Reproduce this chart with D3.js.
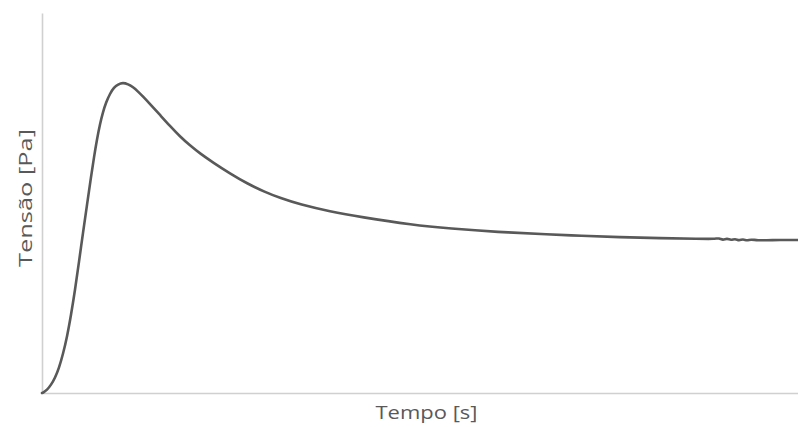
<!DOCTYPE html>
<html>
<head>
<meta charset="utf-8">
<script src="https://cdn.jsdelivr.net/npm/d3@7"></script>
<style>
  html, body { margin: 0; padding: 0; background: #ffffff; }
  svg { display: block; }
</style>
</head>
<body>
<svg id="chart" width="798" height="427"></svg>
<script>
// Stress response over time (relative units, no tick marks shown)
const tempo = [0, 0.13, 0.66, 1.19, 1.72, 2.25, 2.78, 3.31, 3.84, 4.37, 4.89, 5.42, 5.95,
  6.48, 6.88, 7.28, 7.67, 8.07, 8.47, 9.00, 9.52, 10.05, 10.71, 11.38, 12.04, 12.70,
  13.36, 14.29, 15.61, 16.93, 18.25, 19.58, 20.90, 22.62, 24.87, 27.12, 29.50, 31.48,
  34.13, 38.10, 42.06, 49.07, 53.97, 60.19, 67.20, 71.16, 76.46, 81.75, 87.04, 89.02,
  89.55, 90.08, 90.61, 91.14, 91.67, 92.20, 92.72, 93.25, 93.78, 94.58, 96.30, 100];
const tensao = [0, 0.08, 0.79, 2.11, 3.95, 6.58, 10.26, 14.74, 20.53, 27.11, 34.47, 42.11, 49.47,
  56.84, 62.11, 66.84, 70.79, 73.95, 76.45, 78.82, 80.39, 81.24, 81.68, 81.26, 80.53, 79.34,
  78.03, 76.05, 73.16, 70.26, 67.50, 65.13, 63.03, 60.66, 57.76, 55.13, 52.89, 51.32,
  49.61, 47.76, 46.32, 44.21, 43.29, 42.37, 41.71, 41.37, 41.00, 40.74, 40.58, 40.53,
  40.81, 40.16, 40.76, 40.11, 40.68, 40.03, 40.57, 40.03, 40.47, 40.13, 40.26, 40.26];
const xTitle = "Tempo [s]";
const yTitle = "Tensão [Pa]";

const svg = d3.select("#chart");
const margin = { left: 42, right: 0, top: 13, bottom: 34 };
const W = 798, H = 427;

const x = d3.scaleLinear().domain([0, 100]).range([margin.left, W - margin.right]);
const y = d3.scaleLinear().domain([0, 100]).range([H - margin.bottom, margin.top]);

// Axis lines without ticks or labels
const axisColor = "#d0d0d0";
const xAxis = svg.append("g")
  .attr("transform", `translate(0,${y(0)})`)
  .call(d3.axisBottom(x).tickValues([]).tickSizeOuter(0));
const yAxis = svg.append("g")
  .attr("transform", `translate(${x(0)},0)`)
  .call(d3.axisLeft(y).tickValues([]).tickSizeOuter(0));
[xAxis, yAxis].forEach(g => g.select(".domain")
  .attr("stroke", axisColor).attr("stroke-width", 1.6));

// The response curve (B-spline keeps the measured trace smooth)
const pts = tempo.map((t, i) => [t, tensao[i]]);
const line = d3.line()
  .x(d => x(d[0]))
  .y(d => y(d[1]))
  .curve(d3.curveBasis);
svg.append("path")
  .datum(pts)
  .attr("fill", "none")
  .attr("stroke", "#595959")
  .attr("stroke-width", 2.6)
  .attr("stroke-linejoin", "round")
  .attr("stroke-linecap", "round")
  .attr("d", line);

// Axis titles
const font = "'Open Sans', 'DejaVu Sans', sans-serif";
svg.append("text")
  .attr("x", 426.5).attr("y", 419)
  .attr("text-anchor", "middle")
  .attr("font-family", font)
  .attr("font-size", 19)
  .attr("textLength", 102)
  .attr("lengthAdjust", "spacingAndGlyphs")
  .attr("fill", "#595959")
  .text(xTitle);
svg.append("text")
  .attr("transform", `translate(32,198) rotate(-90)`)
  .attr("text-anchor", "middle")
  .attr("font-family", font)
  .attr("font-size", 19)
  .attr("textLength", 138)
  .attr("lengthAdjust", "spacingAndGlyphs")
  .attr("fill", "#595959")
  .text(yTitle);
</script>
</body>
</html>
